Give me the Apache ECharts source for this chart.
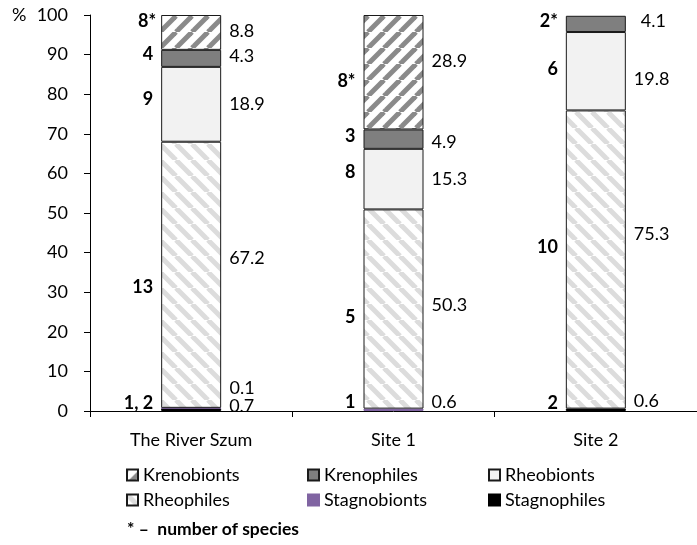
<!DOCTYPE html>
<html>
<head>
<meta charset="utf-8">
<script src="https://cdn.jsdelivr.net/npm/echarts@6/dist/echarts.min.js"></script>
<style>html,body{margin:0;padding:0;background:#fff}#c{width:697px;height:545px}</style>
</head>
<body>
<div id="c"></div>
<script>
// ---- data ----
const categories = ['The River Szum', 'Site 1', 'Site 2'];
const yTicks = [0, 10, 20, 30, 40, 50, 60, 70, 80, 90, 100];
// percentage share of each group
const krenobionts  = [8.8, 28.9, null];
const krenophiles  = [4.3, 4.9, 4.1];
const rheobionts   = [18.9, 15.3, 19.8];
const rheophiles   = [67.2, 50.3, 75.3];
const stagnobionts = [0.1, 0.6, null];
const stagnophiles = [0.7, null, 0.6];
// number of species
const spKrenobionts  = ['8*', '8*', ''];
const spKrenophiles  = ['4', '3', '2*'];
const spRheobionts   = ['9', '8', '6'];
const spRheophiles   = ['13', '5', '10'];
const spStagnobionts = ['1', '1', ''];
const spStagnophiles = ['2', '', '2'];

// ---- styles ----
const FONT = "Lato, 'Open Sans', sans-serif";
function stripes(color, dir) {
  const c = document.createElement('canvas');
  c.width = 16; c.height = 16;
  const g = c.getContext('2d');
  g.fillStyle = '#fff'; g.fillRect(0, 0, 16, 16);
  g.strokeStyle = color; g.lineWidth = 5;
  for (const o of [-16, 0, 16]) {
    g.beginPath();
    if (dir === '/') { g.moveTo(o, 16); g.lineTo(o + 16, 0); }
    else { g.moveTo(o, 0); g.lineTo(o + 16, 16); }
    g.stroke();
  }
  return { image: c, repeat: 'repeat' };
}
const colKreno = stripes('#8a8a8a', '/');
const colRheo = stripes('#dcdcdc', '\\');

// label vertical/horizontal nudges (style)
const rightOff = {
  Krenobionts: [[0, -1], [0, -11], [0, 0]],
  Krenophiles: [[0, -2], [0, 3], [7, -3]],
  Rheobionts: [[0, 0], [0, 0], [0, 8]],
  Rheophiles: [[0, -17], [0, -4], [0, -25]],
  Stagnobionts: [[0, -20], [0, -8], [0, 0]],
  Stagnophiles: [[0, -3], [0, 0], [0, -9]]
};
const leftOff = {
  bottom: [[0, -6], [0, -8], [0, -7]],
  Rheophiles: [[0, 12], [0, 8], [0, -12]],
  Rheobionts: [[0, -5], [0, -7], [0, -2]],
  Krenophiles: [[0, -4], [0, -3], [0, -3]],
  Krenobionts: [[3, -11], [0, 9], [0, 0]]
};

function seriesA(name, values, color, border) {
  return {
    name, type: 'bar', stack: 'a', barWidth: 60, barGap: '-100%',
    itemStyle: { color, borderColor: border || '#1a1a1a', borderWidth: 1 },
    data: values.map((v, i) => v == null ? '-' : {
      value: v,
      label: { show: true, position: 'right', distance: 8, offset: rightOff[name][i],
               formatter: String(v), fontFamily: FONT, fontSize: 18, color: '#000' }
    })
  };
}
function seriesB(key, values, texts) {
  return {
    name: 'lbl_' + key, type: 'bar', stack: 'b', barWidth: 60, barGap: '-100%', silent: true,
    itemStyle: { color: 'rgba(0,0,0,0)', borderWidth: 0 },
    data: values.map((v, i) => (v == null || v === 0) ? '-' : {
      value: v,
      label: { show: texts[i] !== '', position: 'left', distance: 8, offset: leftOff[key][i],
               formatter: texts[i], fontFamily: FONT, fontSize: 18, fontWeight: 'bold', color: '#000' }
    })
  };
}
const bottomVals = categories.map((_, i) => (stagnophiles[i] || 0) + (stagnobionts[i] || 0));
const bottomTexts = categories.map((_, i) => [spStagnobionts[i], spStagnophiles[i]].filter(s => s).join(', '));

const series = [
  seriesA('Stagnophiles', stagnophiles, '#000', '#000'),
  seriesA('Stagnobionts', stagnobionts, '#8064a2', '#8064a2'),
  seriesA('Rheophiles', rheophiles, colRheo),
  seriesA('Rheobionts', rheobionts, '#f2f2f2'),
  seriesA('Krenophiles', krenophiles, '#7f7f7f'),
  seriesA('Krenobionts', krenobionts, colKreno),
  seriesB('bottom', bottomVals, bottomTexts),
  seriesB('Rheophiles', rheophiles, spRheophiles),
  seriesB('Rheobionts', rheobionts, spRheobionts),
  seriesB('Krenophiles', krenophiles, spKrenophiles),
  seriesB('Krenobionts', krenobionts, spKrenobionts)
];

function legendCol(names, left) {
  return {
    data: names, orient: 'vertical', left, top: 465, padding: 0,
    itemWidth: 11, itemHeight: 11, itemGap: 5, itemTextGap: 4,
    icon: 'rect', selectedMode: false,
    textStyle: { fontFamily: FONT, fontSize: 18, color: '#000', lineHeight: 20 }
  };
}

const chart = echarts.init(document.getElementById('c'), null, { renderer: 'canvas' });
chart.setOption({
  animation: false,
  backgroundColor: '#fff',
  grid: { left: 90, right: -8, top: 15, bottom: 134, containLabel: false },
  xAxis: {
    type: 'category', data: categories,
    axisLine: { lineStyle: { color: '#000', width: 1 } },
    axisTick: { show: true, length: 6, lineStyle: { color: '#000' } },
    axisLabel: { margin: 20, fontFamily: FONT, fontSize: 18, color: '#000' }
  },
  yAxis: {
    type: 'value', min: yTicks[0], max: yTicks[yTicks.length - 1], interval: yTicks[1] - yTicks[0],
    axisLine: { show: true, lineStyle: { color: '#000', width: 1 } },
    axisTick: { show: true, length: 6, lineStyle: { color: '#000' } },
    splitLine: { show: false },
    axisLabel: { margin: 22, fontFamily: FONT, fontSize: 18, color: '#000' }
  },
  legend: [
    legendCol(['Krenobionts', 'Rheophiles'], 126),
    legendCol(['Krenophiles', 'Stagnobionts'], 307),
    legendCol(['Rheobionts', 'Stagnophiles'], 488)
  ],
  graphic: [
    { type: 'text', left: 12, top: 6, style: { text: '%', font: '18px ' + FONT, fill: '#000' } },
    { type: 'text', left: 127, top: 520, style: { text: '* \u2013  number of species', font: 'bold 17.5px ' + FONT, fill: '#000' } }
  ],
  series
});
</script>
</body>
</html>
